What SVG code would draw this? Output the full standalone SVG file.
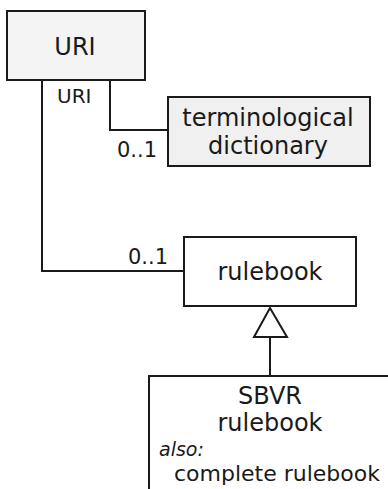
<svg xmlns="http://www.w3.org/2000/svg" width="388" height="489" viewBox="0 0 388 489">
<style>
.box{stroke:#1a1a1a;stroke-width:2}
.t{font-family:"DejaVu Sans",Verdana,sans-serif;font-size:24px;fill:#1a1a1a;text-anchor:middle}
.s{font-family:"DejaVu Sans",Verdana,sans-serif;font-size:21px;fill:#1a1a1a}
.line{fill:none;stroke:#1a1a1a;stroke-width:2}
</style>
<rect width="388" height="489" fill="#fff"/>
<g id="connectors">
<polyline class="line" points="110,80 110,130 168,130"/>
<polyline class="line" points="42,80 42,271 184,271"/>
<line class="line" x1="270" y1="337" x2="270" y2="376"/>
<polygon points="270,308 254,337 287,337" fill="#fff" stroke="#1a1a1a" stroke-width="2"/>
<text class="s" x="57" y="103" style="font-size:20px">URI</text>
<text class="s" x="117" y="157">0..1</text>
<text class="s" x="128" y="264">0..1</text>
</g>
<g id="uri">
<rect class="box" x="7" y="11" width="138" height="69" fill="#f4f4f4"/>
<text class="t" x="75" y="55">URI</text>
</g>
<g id="terminological-dictionary">
<rect class="box" x="168" y="97" width="202" height="69" fill="#f0f0f0"/>
<text class="t" x="268" y="126">terminological</text>
<text class="t" x="268" y="154">dictionary</text>
</g>
<g id="rulebook">
<rect class="box" x="184" y="237" width="172" height="69" fill="#fff"/>
<text class="t" x="270" y="280">rulebook</text>
</g>
<g id="sbvr-rulebook">
<rect class="box" x="149" y="376" width="260" height="130" fill="#fff"/>
<text class="t" x="270" y="404">SBVR</text>
<text class="t" x="270" y="431">rulebook</text>
<text class="s" x="159" y="456" style="font-size:19px;font-style:italic">also:</text>
<text class="t" x="277" y="481" style="font-size:22px">complete rulebook</text>
</g>
</svg>
